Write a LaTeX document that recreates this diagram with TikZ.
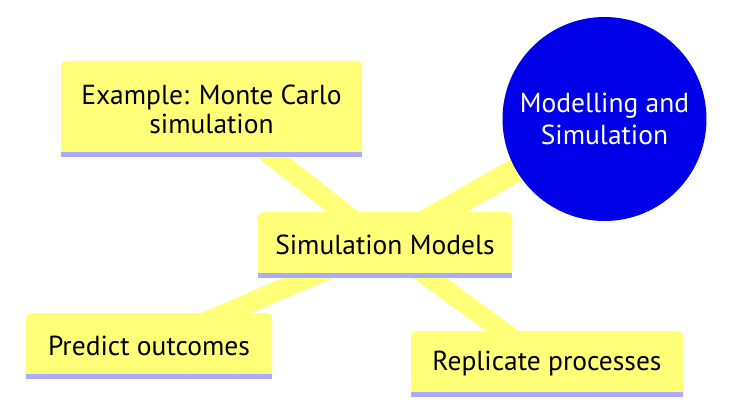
\documentclass[tikz,border=0pt]{standalone}
\usepackage{fontspec}
\setmainfont{PT Sans}
\usetikzlibrary{backgrounds}
\definecolor{mmyellow}{HTML}{FFFF78}
\definecolor{mmbar}{HTML}{AAAAFF}
\definecolor{mmblue}{HTML}{0000E8}
\tikzset{
  leafbox/.style={fill=mmyellow, rounded corners=5pt, inner sep=0pt, align=center,
    font=\fontsize{27.5}{29}\selectfont, text=black},
  rootcirc/.style={circle, fill=mmblue, inner sep=0pt, minimum size=204pt, align=center,
    font=\fontsize{27.5}{32}\selectfont, text=white},
  edgeroot/.style={draw=mmyellow, line width=23.8pt},
  edgechild/.style={draw=mmyellow, line width=19.6pt},
}
\newcommand{\mmbar}[1]{\fill[mmbar] (#1.south west) rectangle ([yshift=5pt]#1.south east);}
\begin{document}
\begin{tikzpicture}[x=1pt,y=-1pt]
\useasboundingbox (0,0) rectangle (732,412);
\node[rootcirc] (root) at (604.5,119) {Modelling and\\Simulation};
\node[leafbox, minimum width=254pt, minimum height=66pt] (sim) at (385,245) {Simulation Models};
\node[leafbox, minimum width=301pt, minimum height=96pt] (ex) at (211.5,109) {Example: Monte Carlo\\simulation};
\node[leafbox, minimum width=246pt, minimum height=66pt] (pred) at (149,346) {Predict outcomes};
\node[leafbox, minimum width=272pt, minimum height=66pt] (rep) at (547,364) {Replicate processes};
\mmbar{sim}
\mmbar{ex}
\mmbar{pred}
\mmbar{rep}
\begin{scope}[on background layer]
\draw[edgeroot] (root.center) -- (sim.center);
\draw[edgechild] (sim.center) -- (ex.center);
\draw[edgechild] (sim.center) -- (pred.center);
\draw[edgechild] (sim.center) -- (rep.center);
\end{scope}
\end{tikzpicture}
\end{document}
